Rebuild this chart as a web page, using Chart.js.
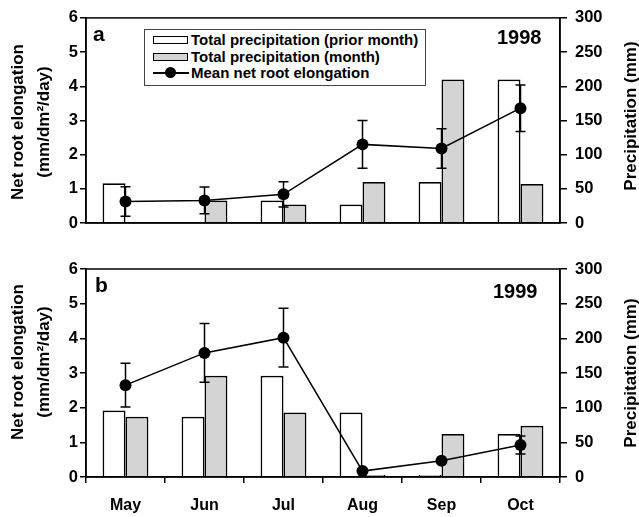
<!DOCTYPE html>
<html>
<head>
<meta charset="utf-8">
<script src="https://cdn.jsdelivr.net/npm/chart.js@4.4.1/dist/chart.umd.min.js"></script>
<style>
  body { margin: 0; background: #fff; }
  #wrap { position: relative; width: 639px; height: 517px; overflow: hidden; font-family: "Liberation Sans", Arial, sans-serif; color: #000; }
  canvas { position: absolute; left: 0; }
  .ytitle { position: absolute; width: 220px; text-align: center; transform: rotate(-90deg); font-weight: bold; font-size: 17px; line-height: 26px; white-space: nowrap; }
  .tag { position: absolute; font-weight: bold; line-height: 1; white-space: nowrap; }
  .legend { position: absolute; left: 144px; top: 29px; width: 280px; height: 53px; border: 1px solid #444; background: #fff; padding-top: 2px; box-sizing: content-box; }
  .row { height: 16.5px; line-height: 16.5px; font-weight: bold; font-size: 15px; white-space: nowrap; display: flex; align-items: center; }
  .sw { width: 33px; height: 6px; border: 1.5px solid #000; margin-left: 8px; margin-right: 3px; box-sizing: content-box; }
  .ln { position: relative; width: 36px; height: 12px; margin-left: 8px; margin-right: 2px; }
  .ln:before { content: ""; position: absolute; left: 0; right: 0; top: 5px; height: 1.5px; background: #000; }
  .ln:after { content: ""; position: absolute; left: 12px; top: 0; width: 11px; height: 11px; border-radius: 50%; background: #000; }
</style>
</head>
<body>
<div id="wrap">
  <canvas id="c1998" width="639" height="246" style="top:0"></canvas>
  <canvas id="c1999" width="639" height="271" style="top:246px"></canvas>

  <div class="ytitle" style="left:-79px; top:96px;">Net root elongation<br>(mm/dm²/day)</div>
  <div class="ytitle" style="left:-79px; top:336px;">Net root elongation<br>(mm/dm²/day)</div>
  <div class="ytitle" style="left:521px; top:106px; line-height:20px;">Precipitation (mm)</div>
  <div class="ytitle" style="left:521px; top:363px; line-height:20px;">Precipitation (mm)</div>

  <div class="tag" style="left:93px; top:23px; font-size:21px;">a</div>
  <div class="tag" style="left:497px; top:27px; font-size:20px;">1998</div>
  <div class="tag" style="left:95px; top:274px; font-size:21px;">b</div>
  <div class="tag" style="left:493px; top:281px; font-size:20px;">1999</div>

  <div class="legend">
    <div class="row"><span class="sw" style="background:#fff"></span>Total precipitation (prior month)</div>
    <div class="row"><span class="sw" style="background:#d4d4d4"></span>Total precipitation (month)</div>
    <div class="row"><span class="ln"></span>Mean net root elongation</div>
  </div>
</div>

<script>
const months = ["May", "Jun", "Jul", "Aug", "Sep", "Oct"];

// 1998
const prior1998 = [58, 0, 33, 27, 60, 210];
const month1998 = [0, 33, 27, 60, 210, 57];
const root1998 = [0.63, 0.66, 0.84, 2.3, 2.18, 3.36];
const err1998 = [0.43, 0.39, 0.37, 0.7, 0.58, 0.68];

// 1999
const prior1999 = [96, 87, 146, 93, 3, 62];
const month1999 = [87, 146, 93, 3, 62, 74];
const root1999 = [2.65, 3.58, 4.02, 0.17, 0.47, 0.92];
const err1999 = [0.63, 0.85, 0.85, 0.04, 0.05, 0.26];

const rootTicks = [0, 1, 2, 3, 4, 5, 6];
const precipTicks = [0, 50, 100, 150, 200, 250, 300];

const tickFont = { family: "'Liberation Sans', Arial, sans-serif", size: 16.5, weight: "bold" };

// frame round the plot + error bars on the root line
const frameAndErrors = {
  id: "frameAndErrors",
  afterDatasetsDraw(chart, args, opts) {
    const { ctx, chartArea } = chart;
    const ys = chart.scales.y;
    const meta = chart.getDatasetMeta(2);
    const vals = chart.data.datasets[2].data;
    ctx.save();
    ctx.strokeStyle = "#000";
    ctx.lineWidth = 1.5;
    meta.data.forEach((pt, i) => {
      const top = ys.getPixelForValue(vals[i] + opts.err[i]);
      const bot = ys.getPixelForValue(Math.max(0, vals[i] - opts.err[i]));
      ctx.beginPath();
      ctx.moveTo(pt.x, top);
      ctx.lineTo(pt.x, bot);
      ctx.moveTo(pt.x - 5, top);
      ctx.lineTo(pt.x + 5, top);
      ctx.moveTo(pt.x - 5, bot);
      ctx.lineTo(pt.x + 5, bot);
      ctx.stroke();
    });
    ctx.strokeRect(chartArea.left, chartArea.top, chartArea.right - chartArea.left, chartArea.bottom - chartArea.top);
    ctx.restore();
  },
};

function makePanel(id, prior, month, root, err, showMonths, padTop, xHeight) {
  return new Chart(document.getElementById(id), {
    type: "bar",
    data: {
      labels: months,
      datasets: [
        {
          label: "Total precipitation (prior month)",
          data: prior,
          yAxisID: "y2",
          backgroundColor: "#ffffff",
          borderColor: "#000",
          borderWidth: 1.7,
          categoryPercentage: 0.58,
          barPercentage: 1.0,
          order: 2,
        },
        {
          label: "Total precipitation (month)",
          data: month,
          yAxisID: "y2",
          backgroundColor: "#d4d4d4",
          borderColor: "#000",
          borderWidth: 1.7,
          categoryPercentage: 0.58,
          barPercentage: 1.0,
          order: 2,
        },
        {
          type: "line",
          label: "Mean net root elongation",
          data: root,
          yAxisID: "y",
          borderColor: "#000",
          borderWidth: 1.5,
          backgroundColor: "#000",
          pointRadius: 6,
          pointBackgroundColor: "#000",
          pointBorderWidth: 0,
          tension: 0,
          order: 1,
        },
      ],
    },
    options: {
      responsive: false,
      animation: false,
      layout: { padding: { top: padTop, left: 0, right: 0, bottom: 0 } },
      plugins: {
        legend: { display: false },
        tooltip: { enabled: false },
        frameAndErrors: { err: err },
      },
      scales: {
        x: {
          offset: true,
          grid: {
            display: showMonths,
            offset: true,
            drawOnChartArea: false,
            drawTicks: true,
            tickLength: 6,
            color: "#000",
            lineWidth: 1.5,
          },
          border: { display: true, color: "#000", width: 1.5 },
          ticks: { display: showMonths, color: "#000", font: { ...tickFont, size: 16 }, padding: 13 },
          afterFit: (s) => { s.height = xHeight; },
        },
        y: {
          position: "left",
          min: 0,
          max: 6,
          afterBuildTicks: (s) => { s.ticks = rootTicks.map((v) => ({ value: v })); },
          grid: { drawOnChartArea: false, tickLength: 6, color: "#000", lineWidth: 1.5 },
          border: { display: true, color: "#000", width: 1.5 },
          ticks: { color: "#000", font: tickFont, padding: 2 },
          afterFit: (s) => { s.width = 86; },
        },
        y2: {
          position: "right",
          min: 0,
          max: 300,
          afterBuildTicks: (s) => { s.ticks = precipTicks.map((v) => ({ value: v })); },
          grid: { drawOnChartArea: false, tickLength: 7, color: "#000", lineWidth: 1.5 },
          border: { display: true, color: "#000", width: 1.5 },
          ticks: { color: "#000", font: tickFont, padding: 8 },
          afterFit: (s) => { s.width = 79; },
        },
      },
    },
    plugins: [frameAndErrors],
  });
}

makePanel("c1998", prior1998, month1998, root1998, err1998, false, 16, 23);
makePanel("c1999", prior1999, month1999, root1999, err1999, true, 23, 40);
</script>
</body>
</html>
